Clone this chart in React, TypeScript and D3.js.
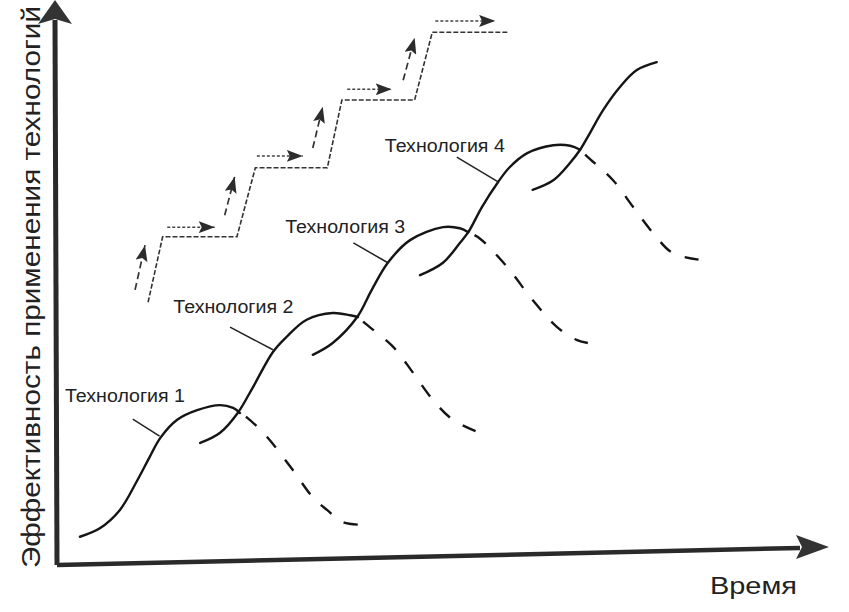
import React from "react";
import * as d3 from "d3";

type Pt = [number, number];

// ---- Data (time units 0..100, effectiveness units 0..100) ----
const tech1Solid: Pt[] = [[2.6,5.0],[5.2,6.5],[7.8,9.7],[10.1,15.0],[11.7,19.1],[13.1,22.5],[15.3,25.7],[17.9,27.4],[20.9,28.3],[22.6,27.8],[23.5,26.9]];
const tech1Dashed: Pt[] = [[23.5,26.9],[24.5,26.0],[27.0,22.7],[30.4,16.8],[33.0,12.0],[34.9,9.7],[36.9,7.6],[39.4,7.1]];
const tech2Solid: Pt[] = [[18.3,21.6],[20.9,23.4],[23.2,26.9],[25.2,31.5],[27.8,37.7],[29.6,40.4],[32.2,43.4],[35.6,44.6],[37.9,44.2],[38.9,43.9]];
const tech2Dashed: Pt[] = [[38.9,43.9],[39.8,42.8],[43.5,38.6],[46.1,34.0],[48.7,29.2],[51.3,25.7],[54.8,23.4]];
const tech3Solid: Pt[] = [[33.0,37.2],[35.6,39.3],[38.8,43.9],[40.7,48.7],[42.8,53.5],[45.7,57.5],[50.0,59.8],[52.2,59.6],[53.3,58.9]];
const tech3Dashed: Pt[] = [[53.3,58.9],[54.8,57.8],[58.4,52.7],[61.7,46.9],[64.9,42.1],[67.5,39.8],[69.8,39.1]];
const tech4Solid: Pt[] = [[47.0,51.3],[50.0,53.5],[52.2,57.0],[53.3,58.9],[55.1,63.4],[57.2,67.8],[58.7,70.4],[61.0,72.9],[64.4,74.3],[66.6,74.2],[67.9,73.5]];
const tech4Dashed: Pt[] = [[67.9,73.5],[68.9,72.2],[72.2,68.1],[74.8,63.4],[77.4,58.8],[80.0,55.2],[83.6,54.0]];
const tech5Solid: Pt[] = [[61.7,66.4],[64.4,68.1],[66.6,71.2],[67.9,73.5],[69.2,76.5],[70.9,80.5],[73.1,84.6],[75.3,87.6],[77.9,89.0]];

const solidCurves: Pt[][] = [tech1Solid, tech2Solid, tech3Solid, tech4Solid, tech5Solid];
const dashedCurves: Pt[][] = [tech1Dashed, tech2Dashed, tech3Dashed, tech4Dashed];

const staircase: Pt[] = [[11.5,46.5],[13.4,58.1],[23.1,58.1],[25.5,70.3],[34.9,70.3],[36.8,82.3],[46.3,82.3],[48.6,94.3],[58.4,94.3]];
const upArrowFrom: Pt[] = [[9.8,48.7],[21.5,61.9],[33.0,73.8],[44.8,85.8]];
const upArrowTo: Pt[] = [[11.1,56.6],[22.8,68.7],[34.3,81.1],[46.3,93.3]];
const rightArrowFrom: Pt[] = [[14.0,59.8],[25.7,72.4],[37.5,84.2],[49.0,96.3]];
const rightArrowTo: Pt[] = [[20.2,59.8],[31.7,72.4],[43.3,84.2],[56.8,96.3]];

const techLabels: string[] = ["Технология 1", "Технология 2", "Технология 3", "Технология 4"];
const labelAnchors: Pt[] = [[0.65,28.8],[14.8,44.6],[29.4,58.8],[42.4,73.1]];
const pointerFrom: Pt[] = [[9.5,25.8],[22.2,42.1],[38.3,57.0],[51.8,72.2]];
const pointerTo: Pt[] = [[13.0,22.8],[27.8,38.1],[42.8,53.5],[57.2,67.8]];

const yAxisTitle = "Эффективность применения технологий";
const xAxisTitle = "Время";

// ---- Layout ----
const W = 849, H = 612;
const x = d3.scaleLinear().domain([0, 100]).range([60, 826]);
const y = d3.scaleLinear().domain([0, 100]).range([565, 0]);

const smooth = d3.line<Pt>().x(d => x(d[0])).y(d => y(d[1])).curve(d3.curveCatmullRom.alpha(0.5));
const straight = d3.line<Pt>().x(d => x(d[0])).y(d => y(d[1]));

const INK = "#151515";

export default function App() {
  const axX0 = 57, axY0 = 565;
  const xTip: Pt = [829, 547];
  const yTip: Pt = [55, 0];
  return (
    <svg width={W} height={H} style={{ position: "absolute", left: 0, top: 0, background: "#fff" }}
      fontFamily="'Liberation Sans', Arial, sans-serif">
      <defs>
        <marker id="ah" viewBox="0 0 16 12" refX="16" refY="6" markerWidth="16" markerHeight="12"
          markerUnits="userSpaceOnUse" orient="auto">
          <path d="M0,0 L16,6 L0,12 L3,6 Z" fill="#2c2c2c" />
        </marker>
      </defs>
      <rect width={W} height={H} fill="#fff" />

      {/* axes */}
      <line x1={axX0} y1={axY0} x2={yTip[0]} y2={20} stroke="#2a2a2a" strokeWidth={5} />
      <path d={`M${yTip[0]},${yTip[1]} L${yTip[0] + 17},${yTip[1] + 24} L${yTip[0]},${yTip[1] + 19} L${yTip[0] - 17},${yTip[1] + 24} Z`} fill="#333" />
      <line x1={axX0} y1={axY0} x2={800} y2={548} stroke="#2a2a2a" strokeWidth={4.5} />
      <path d={`M${xTip[0]},${xTip[1]} L${xTip[0] - 33},${xTip[1] - 12} L${xTip[0] - 27},${xTip[1]} L${xTip[0] - 33},${xTip[1] + 12} Z`} fill="#333" />

      <text transform="translate(40,287) rotate(-90)" textAnchor="middle" fontSize={26} fill="#222"
        textLength={562} lengthAdjust="spacingAndGlyphs">{yAxisTitle}</text>
      <text x={710} y={594} fontSize={24} fill="#222" textLength={87} lengthAdjust="spacingAndGlyphs">{xAxisTitle}</text>

      {/* staircase */}
      <path d={straight(staircase) || ""} fill="none" stroke="#333" strokeWidth={1.6} strokeDasharray="5,2" />
      {upArrowFrom.map((f, i) => (
        <path key={"u" + i} d={straight([f, upArrowTo[i]]) || ""} fill="none" stroke="#333" strokeWidth={1.7}
          strokeDasharray="7,4" markerEnd="url(#ah)" />
      ))}
      {rightArrowFrom.map((f, i) => (
        <path key={"r" + i} d={straight([f, rightArrowTo[i]]) || ""} fill="none" stroke="#444" strokeWidth={1.5}
          strokeDasharray="3,2" markerEnd="url(#ah)" />
      ))}

      {/* technology curves */}
      {solidCurves.map((c, i) => (
        <path key={"s" + i} d={smooth(c) || ""} fill="none" stroke={INK} strokeWidth={2.4} strokeLinecap="round" />
      ))}
      {dashedCurves.map((c, i) => (
        <path key={"d" + i} d={smooth(c) || ""} fill="none" stroke={INK} strokeWidth={2.4}
          strokeDasharray="0,7,14,8" />
      ))}

      {/* labels */}
      {techLabels.map((t, i) => (
        <g key={"l" + i}>
          <text x={x(labelAnchors[i][0])} y={y(labelAnchors[i][1])} fontSize={18} fill="#222"
            textLength={120} lengthAdjust="spacingAndGlyphs">{t}</text>
          <line x1={x(pointerFrom[i][0])} y1={y(pointerFrom[i][1])} x2={x(pointerTo[i][0])} y2={y(pointerTo[i][1])}
            stroke="#222" strokeWidth={1.5} />
        </g>
      ))}
    </svg>
  );
}
